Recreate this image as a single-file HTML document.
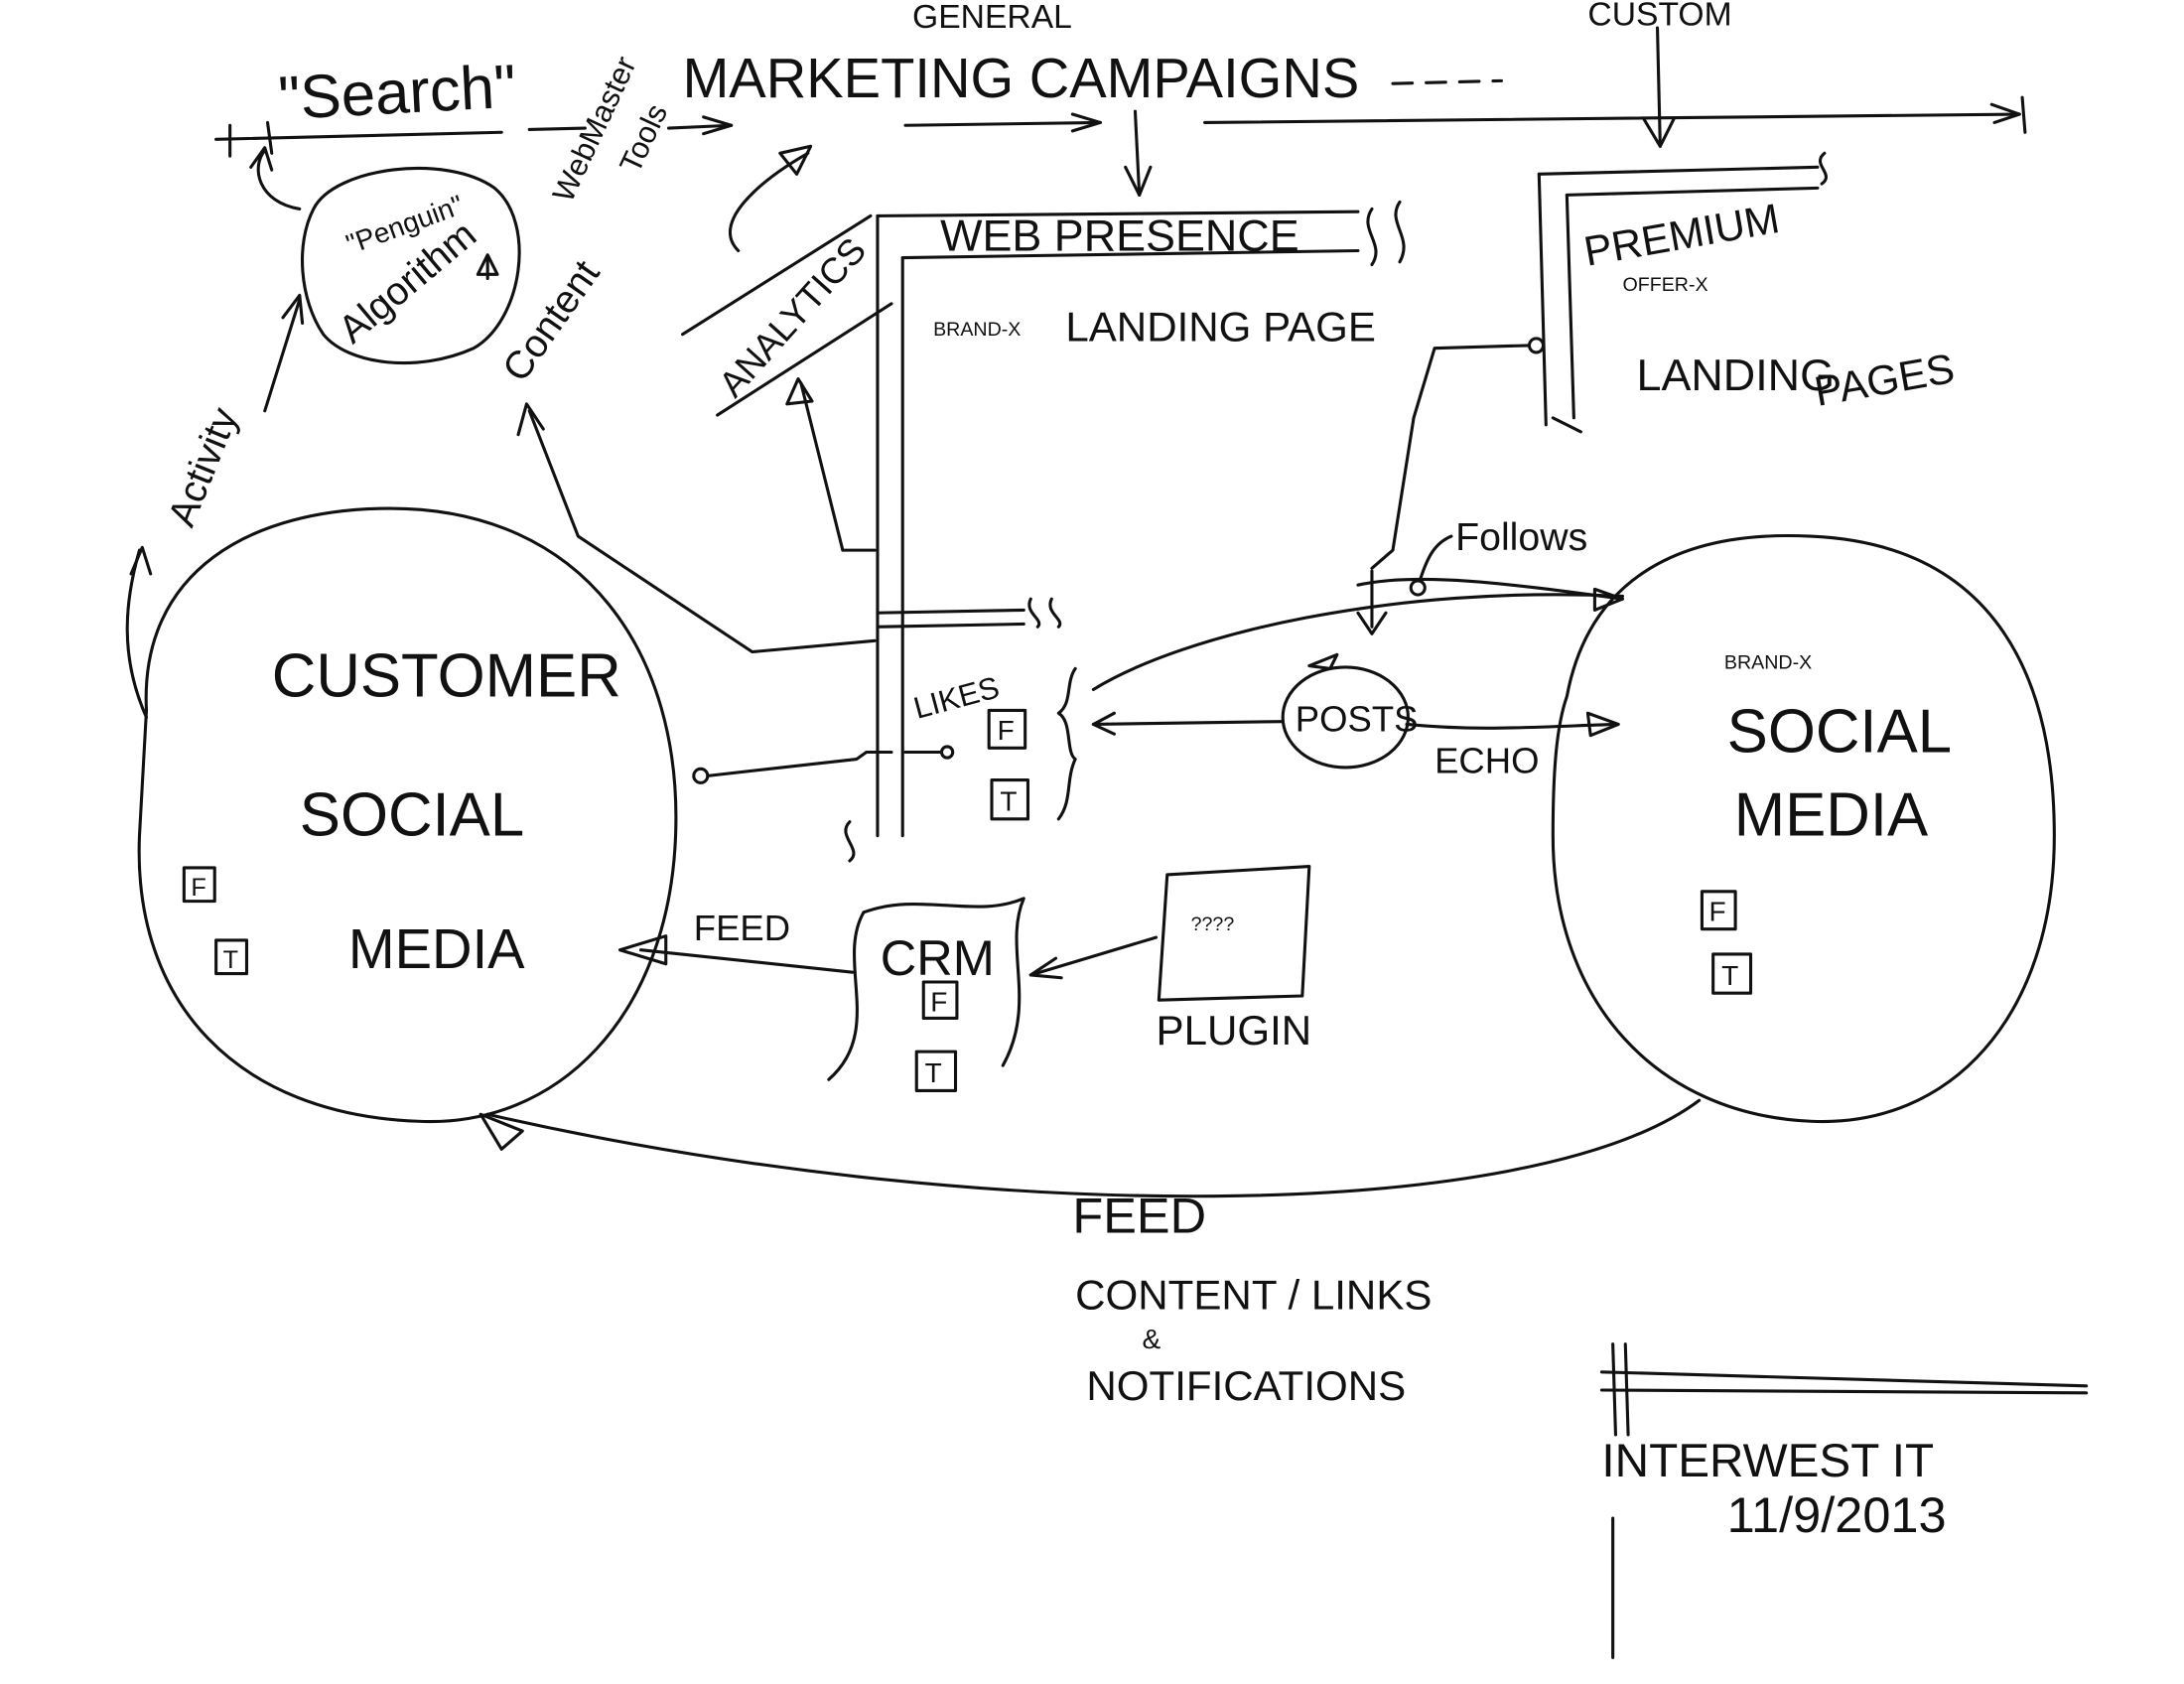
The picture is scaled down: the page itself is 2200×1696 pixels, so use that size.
<!DOCTYPE html>
<html><head><meta charset="utf-8"><style>
html,body{margin:0;padding:0;background:#fff;}
svg{display:block;}
text{font-family:"Liberation Sans",sans-serif;fill:#111;}
</style></head><body>
<svg width="2200" height="1696" viewBox="0 0 1568 1209" xmlns="http://www.w3.org/2000/svg">
<g fill="none" stroke="#111" stroke-width="2.2" stroke-linecap="round" stroke-linejoin="round">
<path d="M155 100 L360 95"/><path d="M165 90 L165 112"/><path d="M192 88 L195 110"/>
<path d="M380 93 L420 92"/><path d="M480 92 L525 90"/><path d="M505 84 L525 90 L505 96"/>
<path d="M650 90 L790 88"/><path d="M770 82 L790 88 L770 94"/>
<path d="M865 88 L1450 82"/><path d="M1430 75 L1450 82 L1432 88"/><path d="M1452 70 L1454 95"/>
<path d="M1000 60 L1078 58" stroke-dasharray="14 10"/>
<path d="M815 80 L818 140"/><path d="M808 120 L818 140 L826 120"/>
<path d="M1190 20 L1192 105"/><path d="M1180 85 L1192 105 L1202 85"/>
<path d="M225 150 C240 120 320 110 355 135 C385 160 375 230 340 250 C300 268 250 262 232 240 C215 215 212 175 225 150 Z"/>
<path d="M215 150 C185 145 180 120 190 108"/><path d="M180 120 L190 106 L195 122"/>
<path d="M190 295 L215 215"/><path d="M203 228 L215 212 L217 232"/>
<path d="M105 515 C85 470 90 430 100 395"/><path d="M94 412 L102 393 L108 412"/>
<path d="M350 200 L350 185"/><path d="M343 197 L350 183 L357 197 Z"/>
<path d="M490 240 L625 155"/><path d="M515 298 L640 218"/>
<path d="M530 180 C510 160 545 130 580 110"/><path d="M560 110 L582 105 L572 125 Z"/>
<path d="M630 155 L630 600"/><path d="M648 185 L648 600"/>
<path d="M630 155 L975 152"/><path d="M648 185 L975 180"/>
<path d="M985 150 C975 165 995 175 985 190"/><path d="M1005 145 C995 160 1015 170 1005 188"/>
<path d="M610 590 C600 600 620 610 610 618"/>
<path d="M605 395 L575 275"/><path d="M565 290 L573 272 L583 288 Z"/>
<path d="M605 395 L628 395"/>
<path d="M630 440 L735 438"/><path d="M630 450 L735 448"/><path d="M740 430 C735 440 750 445 745 450"/><path d="M755 430 C750 440 765 445 760 450"/>
<path d="M628 460 L540 468 L415 385 L380 295"/><path d="M372 312 L378 290 L390 308"/>
<path d="M1105 125 L1305 120"/><path d="M1125 140 L1305 135"/>
<path d="M1105 125 L1110 305"/><path d="M1125 140 L1130 300"/><path d="M1115 300 L1135 310"/>
<path d="M1310 110 C1300 118 1318 125 1308 132"/>
<circle cx="1103" cy="248" r="5"/>
<path d="M1098 248 L1030 250 L1015 300 L1000 395 L985 408"/>
<circle cx="1018" cy="422" r="5"/>
<path d="M1020 415 C1025 400 1030 390 1042 385"/>
<path d="M975 420 C1020 410 1090 420 1165 430"/><path d="M1145 423 L1165 430 L1145 438 Z"/>
<path d="M985 410 L985 450"/><path d="M975 440 L985 455 L995 440"/>
<path d="M785 495 C850 455 1000 420 1165 428"/>
<path d="M785 520 L920 518"/><path d="M800 512 L785 520 L800 527"/>
<path d="M772 480 C765 490 770 505 760 512 C770 518 765 540 772 545 C765 560 770 575 760 588"/>
<ellipse cx="966" cy="515" rx="45" ry="36"/>
<path d="M960 470 L940 478 L955 480 Z"/>
<path d="M1010 520 C1060 525 1100 522 1160 520"/><path d="M1140 512 L1162 520 L1142 528 Z"/>
<circle cx="503" cy="557" r="5"/><path d="M508 557 L615 545 L622 540 L640 540"/><circle cx="680" cy="540" r="4"/><path d="M650 540 L676 540"/>
<path d="M105 510 C100 410 180 365 280 365 C420 365 490 470 485 600 C480 730 400 810 300 805 C170 800 95 720 100 600 Z"/>
<path d="M1125 500 C1140 420 1200 380 1300 385 C1420 390 1475 470 1475 600 C1475 730 1400 810 1300 805 C1190 800 1115 720 1115 600 C1115 550 1118 520 1125 500"/>
<rect x="132" y="623" width="22" height="24"/><rect x="155" y="675" width="22" height="24"/>
<rect x="710" y="510" width="26" height="27"/><rect x="712" y="560" width="26" height="28"/>
<rect x="663" y="705" width="24" height="26"/><rect x="658" y="755" width="28" height="28"/>
<rect x="1222" y="640" width="24" height="27"/><rect x="1230" y="685" width="27" height="28"/>
<path d="M620 655 C660 640 700 660 735 645 C720 680 745 720 720 765"/>
<path d="M620 655 C600 690 635 740 595 775"/>
<path d="M612 698 L460 682"/><path d="M478 672 L445 682 L478 692 Z"/>
<path d="M838 628 L940 622 L935 715 L832 718 Z"/>
<path d="M830 673 L740 700"/><path d="M758 688 L740 700 L762 702"/>
<path d="M1220 790 C1100 880 700 880 350 800"/><path d="M345 800 L375 812 L360 825 Z"/>
<path d="M1150 985 L1498 995"/><path d="M1150 998 L1498 1000"/>
<path d="M1158 965 L1160 1030"/><path d="M1167 965 L1169 1030"/>
<path d="M1158 1090 L1158 1190"/>
</g>
<g>
<text x="200" y="82" font-size="44" transform="rotate(-3 270 70)">"Search"</text>
<text x="380" y="140" font-size="22" transform="rotate(-65 400 120)">WebMaster</text>
<text x="430" y="118" font-size="22" transform="rotate(-65 450 100)">Tools</text>
<text x="655" y="20" font-size="24">GENERAL</text>
<text x="490" y="70" font-size="40">MARKETING CAMPAIGNS</text>
<text x="1140" y="18" font-size="24">CUSTOM</text>
<text x="290" y="168" font-size="20" text-anchor="middle" transform="rotate(-20 290 160)">"Penguin"</text>
<text x="292" y="212" font-size="28" text-anchor="middle" transform="rotate(-40 292 202)">Algorithm</text>
<text x="395" y="240" font-size="28" text-anchor="middle" transform="rotate(-55 395 230)">Content</text>
<text x="145" y="345" font-size="28" text-anchor="middle" transform="rotate(-68 145 335)">Activity</text>
<text x="568" y="237" font-size="26" text-anchor="middle" transform="rotate(-48 568 227)">ANALYTICS</text>
<text x="675" y="180" font-size="32">WEB PRESENCE</text>
<text x="670" y="241" font-size="14">BRAND-X</text>
<text x="765" y="245" font-size="30">LANDING PAGE</text>
<text x="1135" y="180" font-size="30" transform="rotate(-10 1200 160)">PREMIUM</text>
<text x="1165" y="209" font-size="14">OFFER-X</text>
<text x="1175" y="280" font-size="32">LANDING</text>
<text x="1300" y="285" font-size="30" transform="rotate(-10 1340 260)">PAGES</text>
<text x="1045" y="395" font-size="28">Follows</text>
<text x="655" y="510" font-size="22" transform="rotate(-15 680 500)">LIKES</text>
<text x="930" y="525" font-size="26">POSTS</text>
<text x="1030" y="555" font-size="26">ECHO</text>
<text x="1238" y="480" font-size="14">BRAND-X</text>
<text x="1240" y="540" font-size="44">SOCIAL</text>
<text x="1245" y="600" font-size="44">MEDIA</text>
<text x="195" y="500" font-size="44">CUSTOMER</text>
<text x="215" y="600" font-size="44">SOCIAL</text>
<text x="250" y="695" font-size="40">MEDIA</text>
<text x="137" y="643" font-size="18">F</text><text x="160" y="695" font-size="18">T</text>
<text x="716" y="531" font-size="20">F</text><text x="718" y="582" font-size="20">T</text>
<text x="668" y="726" font-size="20">F</text><text x="664" y="777" font-size="20">T</text>
<text x="1227" y="661" font-size="20">F</text><text x="1236" y="707" font-size="20">T</text>
<text x="498" y="675" font-size="26">FEED</text>
<text x="632" y="700" font-size="36">CRM</text>
<text x="855" y="668" font-size="14">????</text>
<text x="830" y="750" font-size="30">PLUGIN</text>
<text x="770" y="885" font-size="36">FEED</text>
<text x="772" y="940" font-size="30">CONTENT / LINKS</text>
<text x="820" y="968" font-size="20">&amp;</text>
<text x="780" y="1005" font-size="30">NOTIFICATIONS</text>
<text x="1150" y="1060" font-size="34">INTERWEST IT</text>
<text x="1240" y="1100" font-size="36">11/9/2013</text>
</g>
</svg>
</body></html>
